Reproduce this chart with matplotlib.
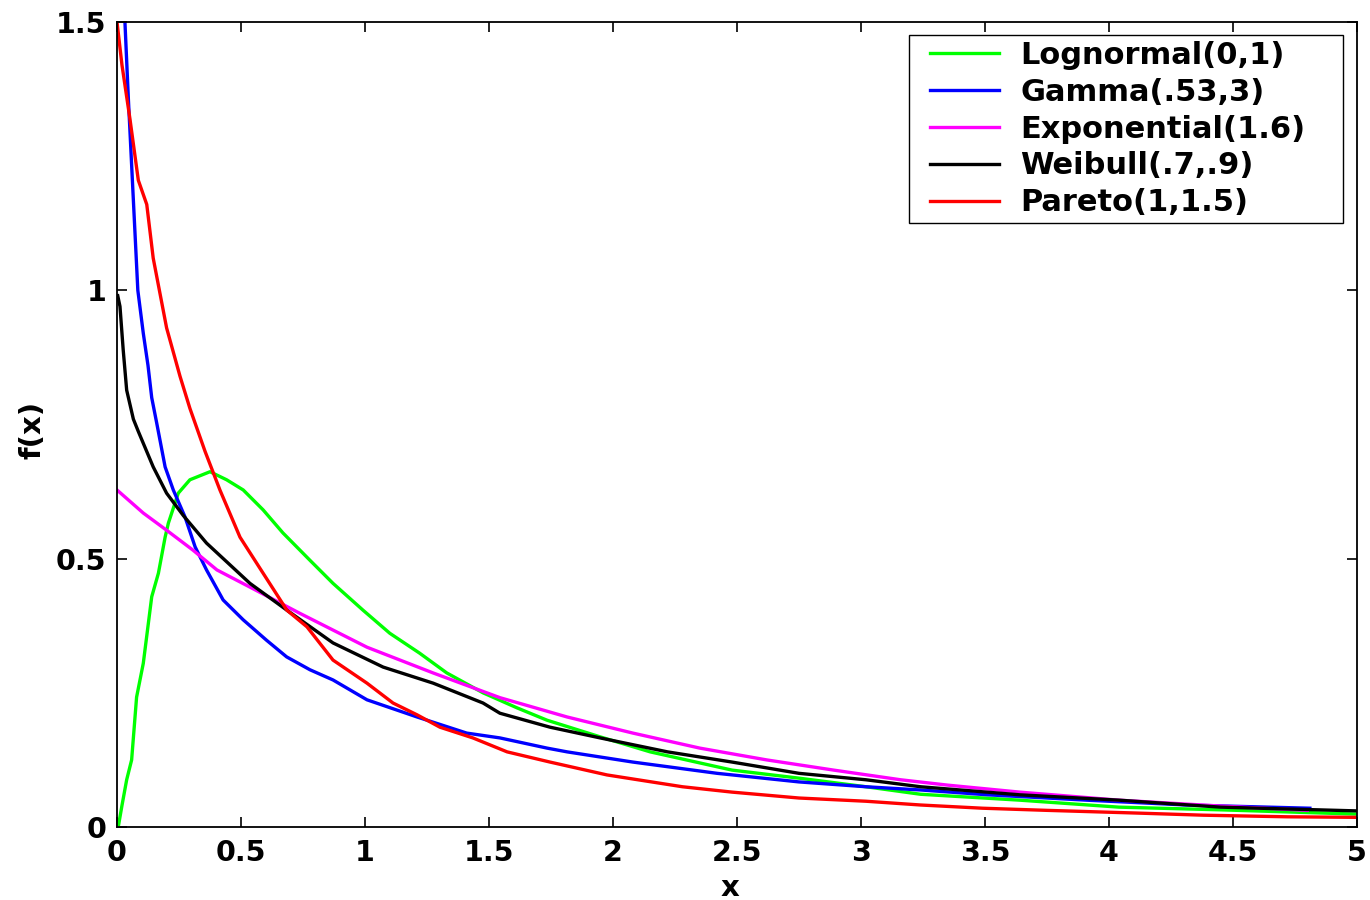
import matplotlib
matplotlib.use("Agg")
import matplotlib.pyplot as plt
from matplotlib.legend_handler import HandlerLine2D
from matplotlib.lines import Line2D

plt.rcParams['font.family'] = ['DejaVu Sans']
plt.rcParams['font.weight'] = 'bold'

# --- values ---
logn_x = [0.005, 0.02, 0.039, 0.059, 0.079, 0.106, 0.14, 0.167, 0.194, 0.207, 0.247, 0.294,
          0.375, 0.442, 0.509, 0.589, 0.669, 0.778, 0.871, 0.992, 1.10, 1.22, 1.33, 1.476,
          1.613, 1.734, 1.948, 2.15, 2.48, 2.75, 3.02, 3.24, 3.64, 4.04, 4.45, 5.0]
logn_y = [0.0, 0.04, 0.088, 0.125, 0.242, 0.305, 0.429, 0.473, 0.540, 0.566, 0.622, 0.647,
          0.662, 0.647, 0.628, 0.591, 0.548, 0.497, 0.454, 0.404, 0.361, 0.324, 0.287, 0.250,
          0.222, 0.199, 0.168, 0.140, 0.106, 0.091, 0.075, 0.061, 0.050, 0.037, 0.032, 0.024]

gamma_x = [0.025, 0.032, 0.046, 0.066, 0.084, 0.106, 0.125, 0.14, 0.16, 0.194, 0.227, 0.274,
           0.315, 0.361, 0.428, 0.509, 0.603, 0.684, 0.778, 0.871, 1.008, 1.21, 1.41, 1.544,
           1.734, 1.815, 2.08, 2.42, 2.75, 3.02, 3.24, 3.51, 3.91, 4.31, 4.81]
gamma_y = [1.62, 1.50, 1.355, 1.168, 1.0, 0.92, 0.86, 0.80, 0.753, 0.671, 0.628, 0.578,
           0.522, 0.479, 0.423, 0.386, 0.348, 0.317, 0.293, 0.274, 0.237, 0.205, 0.175, 0.166,
           0.147, 0.140, 0.121, 0.100, 0.084, 0.075, 0.069, 0.060, 0.050, 0.041, 0.035]

expo_x = [0.0, 0.106, 0.2, 0.306, 0.403, 0.536, 0.738, 1.008, 1.275, 1.544, 1.815, 2.08,
          2.35, 2.62, 2.89, 3.16, 3.35, 3.64, 4.04, 4.45, 4.8]
expo_y = [0.628, 0.585, 0.553, 0.516, 0.479, 0.447, 0.398, 0.335, 0.287, 0.241, 0.205, 0.175,
          0.147, 0.125, 0.106, 0.088, 0.078, 0.065, 0.050, 0.039, 0.031]

weib_x = [0.003, 0.012, 0.025, 0.039, 0.066, 0.086, 0.146, 0.2, 0.268, 0.361, 0.536, 0.685,
          0.871, 1.073, 1.275, 1.476, 1.544, 1.746, 1.948, 2.22, 2.48, 2.75, 3.02, 3.24,
          3.64, 4.04, 4.45, 5.0]
weib_y = [0.99, 0.97, 0.889, 0.814, 0.76, 0.737, 0.671, 0.622, 0.580, 0.529, 0.454, 0.404,
          0.343, 0.298, 0.268, 0.231, 0.212, 0.186, 0.166, 0.140, 0.121, 0.100, 0.088, 0.075,
          0.060, 0.050, 0.037, 0.030]

pareto_x = [0.0, 0.02, 0.052, 0.086, 0.12, 0.146, 0.2, 0.254, 0.294, 0.355, 0.415, 0.496,
            0.589, 0.685, 0.766, 0.871, 1.008, 1.113, 1.21, 1.302, 1.435, 1.573, 1.746, 1.976,
            2.28, 2.48, 2.75, 3.02, 3.24, 3.49, 3.75, 4.11, 4.38, 4.72, 5.0]
pareto_y = [1.50, 1.42, 1.32, 1.205, 1.16, 1.06, 0.93, 0.84, 0.78, 0.70, 0.628, 0.540,
            0.473, 0.404, 0.373, 0.311, 0.268, 0.231, 0.209, 0.186, 0.166, 0.140, 0.121, 0.097,
            0.075, 0.065, 0.054, 0.048, 0.041, 0.035, 0.031, 0.026, 0.022, 0.019, 0.018]

labels = ['Lognormal(0,1)', 'Gamma(.53,3)', 'Exponential(1.6)', 'Weibull(.7,.9)', 'Pareto(1,1.5)']
colors = ['#00ff00', '#0000ff', '#ff00ff', '#000000', '#ff0000']

fig = plt.figure(figsize=(13.7, 9), dpi=100)
ax = fig.add_axes([117 / 1370, 1 - 827 / 900, 1240 / 1370, 805 / 900])

series = [(logn_x, logn_y), (gamma_x, gamma_y), (expo_x, expo_y),
          (weib_x, weib_y), (pareto_x, pareto_y)]
for (xs, ys), lab, col in zip(series, labels, colors):
    ax.plot(xs, ys, color=col, lw=2.4, label=lab)

ax.set_xlim(0, 5)
ax.set_ylim(0, 1.5)
ax.set_xticks([0, 0.5, 1, 1.5, 2, 2.5, 3, 3.5, 4, 4.5, 5])
ax.set_xticklabels(['0', '0.5', '1', '1.5', '2', '2.5', '3', '3.5', '4', '4.5', '5'])
ax.set_yticks([0, 0.5, 1, 1.5])
ax.set_yticklabels(['0', '0.5', '1', '1.5'])
ax.tick_params(direction='in', top=True, right=True, length=7.5, width=1.2, labelsize=20.5)
ax.tick_params(axis='x', pad=8.5)
ax.tick_params(axis='y', pad=7.5)
for sp in ax.spines.values():
    sp.set_linewidth(1.3)

ax.set_xlabel('x', fontsize=21, fontweight='bold')
ax.set_ylabel('f(x)', fontsize=21, fontweight='bold')
ax.xaxis.set_label_coords(0.494, -0.058)
ax.yaxis.set_label_coords(-0.057, 0.493)

leg = ax.legend(loc='upper left', bbox_to_anchor=(0.6387, 0.9839, 0.35, 0.0), mode='expand',
                fontsize=22, fancybox=False, edgecolor='black', framealpha=1,
                handlelength=2.75, handletextpad=0.7, labelspacing=0.255, borderpad=0.2,
                borderaxespad=0, handler_map={Line2D: HandlerLine2D(xpad=0.49)})
leg.get_frame().set_linewidth(1.0)
for t in leg.get_texts():
    t.set_fontweight('bold')

fig.savefig('out.png', dpi=100)
